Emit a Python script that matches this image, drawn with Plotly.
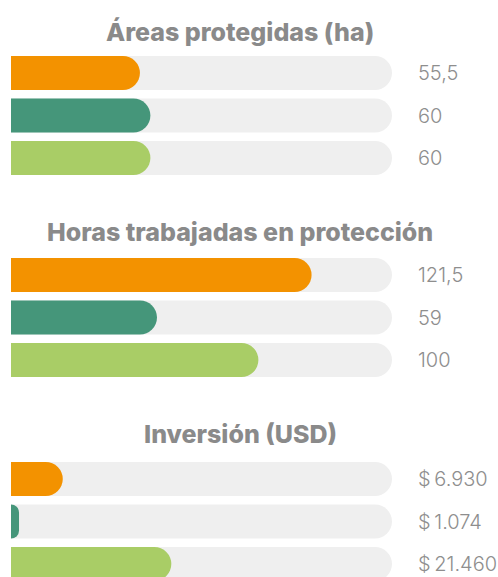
import plotly.graph_objects as go

# -------------------------------------------------
# Data
# -------------------------------------------------
group_titles = ["Áreas protegidas (ha)", "Horas trabajadas en protección", "Inversión (USD)"]

areas_values = [55.5, 60, 60]
horas_values = [121.5, 59, 100]
inversion_values = [6930, 1074, 21460]

areas_labels = ["55,5", "60", "60"]
horas_labels = ["121,5", "59", "100"]
inversion_labels = ["$\u20096.930", "$\u20091.074", "$\u200921.460"]

# full length of the grey track for each group (scale maximum)
track_max = [164, 154, 51000]

bar_colors = ["#F39200", "#45967A", "#A9CD66"]
track_color = "#EFEFEF"
text_color = "#8A8A8A"

W, H = 498, 577


def py(px_val):
    # pixel row -> paper coordinate
    return 1 - px_val / H


# -------------------------------------------------
# Figure
# -------------------------------------------------
fig = go.Figure()

groups = [
    (areas_values, areas_labels),
    (horas_values, horas_labels),
    (inversion_values, inversion_labels),
]
# top/bottom pixel of each band area
domains_px = [(51.75, 179.25), (253.75, 381.25), (457.75, 577)]
title_y_px = [32, 232, 434]
band = 42.5

rows = [0, 1, 2]
for i, (vals, labels) in enumerate(groups):
    # track on its own subplot, coloured bars on an overlaid subplot
    # (so each bar counts as "outmost" and gets its rounded end)
    k_t = i + 1
    k_v = i + 4
    xa_t = "x" if k_t == 1 else f"x{k_t}"
    ya_t = "y" if k_t == 1 else f"y{k_t}"
    xa_v, ya_v = f"x{k_v}", f"y{k_v}"

    fig.add_trace(go.Bar(
        x=[track_max[i]] * 3, y=rows, orientation="h", width=0.8,
        marker=dict(color=track_color, cornerradius=17, line_width=0),
        xaxis=xa_t, yaxis=ya_t, hoverinfo="skip", showlegend=False,
    ))
    fig.add_trace(go.Bar(
        x=vals, y=rows, orientation="h", width=0.8,
        marker=dict(color=bar_colors, cornerradius=17, line_width=0),
        xaxis=xa_v, yaxis=ya_v, showlegend=False,
    ))

    top, bottom = domains_px[i]
    lower = -0.5 + (bottom - top) / band
    key_t = "" if k_t == 1 else str(k_t)
    xdom = [11 / W, 392 / W]
    ydom = [py(bottom), py(top)]
    fig.update_layout(**{
        f"xaxis{key_t}": dict(domain=xdom, range=[0, track_max[i]],
                              visible=False, fixedrange=True, anchor=ya_t),
        f"yaxis{key_t}": dict(domain=ydom, range=[lower, -0.5],
                              visible=False, fixedrange=True, anchor=xa_t),
        f"xaxis{k_v}": dict(domain=xdom, range=[0, track_max[i]], overlaying=xa_t,
                            visible=False, fixedrange=True, anchor=ya_v),
        f"yaxis{k_v}": dict(domain=ydom, range=[lower, -0.5], overlaying=ya_t,
                            visible=False, fixedrange=True, anchor=xa_v),
    })

    # value labels on the right
    for r, lab in zip(rows, labels):
        fig.add_annotation(
            text=lab, x=416 / W, xref="paper", xanchor="left",
            y=r, yref=ya_t, yanchor="middle", showarrow=False,
            font=dict(family="Inter, Roboto, sans-serif", size=20, color="#8E8E8E", weight=300),
        )

    # group title
    fig.add_annotation(
        text=group_titles[i], x=240 / W, xref="paper", xanchor="center",
        y=py(title_y_px[i]), yref="paper", yanchor="middle", showarrow=False,
        font=dict(family="Inter, Roboto, sans-serif", size=25, color=text_color, weight=800),
    )

fig.update_layout(
    width=W, height=H,
    barmode="overlay",
    margin=dict(l=0, r=0, t=0, b=0),
    paper_bgcolor="white",
    plot_bgcolor="rgba(0,0,0,0)",
)

fig.write_html(
    "out.html",
    config={"displayModeBar": False},
    post_script="document.body.style.margin='0';",
)
